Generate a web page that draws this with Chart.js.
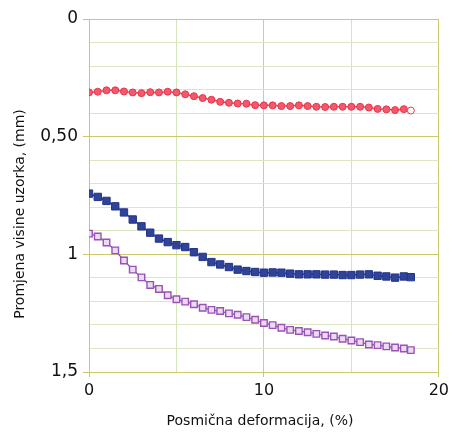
<!DOCTYPE html>
<html><head><meta charset="utf-8">
<script src="https://cdn.jsdelivr.net/npm/chart.js@4"></script>
<style>html,body{margin:0;padding:0;background:#fff}#wrap{width:453px;height:438px}</style>
</head><body><div id="wrap"><canvas id="c" width="453" height="438"></canvas></div>
<script>
const xValues = [0,0.5,1,1.5,2,2.5,3,3.5,4,4.5,5,5.5,6,6.5,7,7.5,8,8.5,9,9.5,10,10.5,11,11.5,12,12.5,13,13.5,14,14.5,15,15.5,16,16.5,17,17.5,18,18.4];
const redSeries = [0.312,0.309,0.303,0.303,0.308,0.312,0.315,0.311,0.312,0.309,0.312,0.320,0.328,0.336,0.343,0.352,0.356,0.359,0.360,0.366,0.367,0.367,0.370,0.370,0.367,0.370,0.373,0.374,0.373,0.373,0.373,0.373,0.376,0.382,0.384,0.387,0.383,0.389];
const blueSeries = [0.742,0.756,0.773,0.796,0.822,0.852,0.881,0.908,0.933,0.948,0.961,0.969,0.991,1.011,1.033,1.043,1.054,1.065,1.071,1.075,1.078,1.077,1.078,1.082,1.085,1.085,1.085,1.086,1.086,1.088,1.088,1.086,1.085,1.091,1.094,1.099,1.094,1.097];
const purpleSeries = [0.912,0.924,0.950,0.983,1.026,1.065,1.098,1.130,1.147,1.174,1.191,1.201,1.212,1.227,1.236,1.241,1.251,1.257,1.267,1.278,1.292,1.301,1.312,1.321,1.326,1.331,1.338,1.345,1.349,1.359,1.366,1.373,1.383,1.386,1.391,1.396,1.400,1.407];
const yTickLabels = {'0':'0','5':'0,50','10':'1','15':'1,5'};
const xTickLabels = {'0':'0','10':'10','20':'20'};
const xTitle = 'Posmična deformacija, (%)';
const yTitle = 'Promjena visine uzorka, (mm)';

const OLIVE = '#c9c86c';
const MINOR = '#dbe7c0';
const GREEN10 = '#bcd690';
const GREEN5 = '#d4e5bc';

function pts(ys){ return ys.map((y,i)=>({x:xValues[i], y:y})); }

const titlePlugin = {
  id:'axisTitles',
  afterDraw(chart){
    const ctx = chart.ctx;
    ctx.save();
    ctx.fillStyle = '#111';
    ctx.font = '14px "DejaVu Sans"';
    ctx.textAlign = 'center';
    ctx.textBaseline = 'middle';
    ctx.fillText(xTitle, 260, 421);
    ctx.translate(20, 214);
    ctx.rotate(-Math.PI/2);
    ctx.fillText(yTitle, 0, 0);
    ctx.restore();
  }
};

new Chart(document.getElementById('c'), {
  type:'scatter',
  data:{datasets:[
    {data:pts(redSeries), showLine:true, borderColor:'#ee4358', borderWidth:1.5,
     pointStyle:'circle', pointRadius:3.5, pointBorderWidth:1, pointBorderColor:'#e9344c',
     pointBackgroundColor:(c)=> c.dataIndex===redSeries.length-1 ? '#ffffff' : '#f2596a'},
    {data:pts(blueSeries), showLine:true, borderColor:'#2b3d94', borderWidth:1.5,
     pointStyle:'rect', pointRadius:5.2, pointBorderWidth:1, pointBorderColor:'#233389', pointBackgroundColor:'#2f4399'},
    {data:pts(purpleSeries), showLine:true, borderColor:'#8e4fae', borderWidth:1.3,
     pointStyle:'rect', pointRadius:4.6, pointBorderWidth:1.4, pointBorderColor:'#9a52b6', pointBackgroundColor:'#eadcf0'}
  ]},
  options:{
    responsive:false, animation:false,
    layout:{padding:{top:19,right:12,left:0,bottom:0}},
    plugins:{legend:{display:false}, tooltip:{enabled:false}},
    scales:{
      x:{type:'linear', min:0, max:20,
        afterFit(s){ s.height = 66; },
        ticks:{stepSize:5, autoSkip:false, padding:4, color:'#111', font:{family:'DejaVu Sans', size:16},
          callback:(v)=> xTickLabels[String(Math.round(v))] ?? ''},
        grid:{color:(c)=>{const v=Math.round(c.tick.value); return (v===0||v===20)?OLIVE:(v===10?GREEN10:GREEN5);},
          tickColor:(c)=>{const v=Math.round(c.tick.value); return (v%10===0)?OLIVE:'rgba(0,0,0,0)';},
          tickLength:5, lineWidth:1},
        border:{color:OLIVE}
      },
      y:{type:'linear', min:0, max:1.5, reverse:true,
        afterFit(s){ s.width = 89; },
        ticks:{stepSize:0.1, autoSkip:false, maxTicksLimit:30, padding:5, color:'#111', font:{family:'DejaVu Sans', size:17},
          callback:(v)=> yTickLabels[String(Math.round(v*10))] ?? ''},
        grid:{color:(c)=>{const k=Math.round(c.tick.value*10); return k%5===0?OLIVE:MINOR;},
          tickColor:(c)=>{const k=Math.round(c.tick.value*10); return k%5===0?OLIVE:'rgba(0,0,0,0)';},
          tickLength:6, lineWidth:1},
        border:{color:OLIVE}
      }
    }
  },
  plugins:[titlePlugin]
});
</script></body></html>
